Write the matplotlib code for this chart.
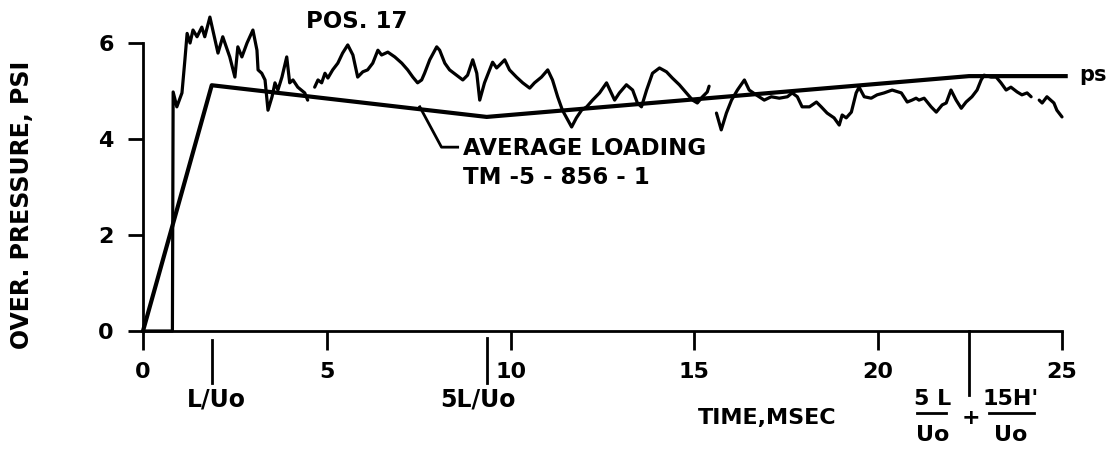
import numpy as np
import matplotlib
matplotlib.use("Agg")
import matplotlib.pyplot as plt

# ---- data ----
avg_time = [0.0, 1.87, 9.35, 22.47, 25.1]
avg_psi = [0.0, 5.12, 4.46, 5.31, 5.31]

nan = float("nan")
trace_time = [0.0, 0.80, 0.82, 0.92, 1.06, 1.14, 1.20, 1.28, 1.36, 1.47, 1.60, 1.68, 1.82,
              1.90, 2.04, 2.17, 2.36, 2.50, 2.58, 2.69, 2.83, 2.99, 3.10, 3.13, 3.23,
              3.32, 3.40, 3.51, 3.59, 3.67, 3.78, 3.91, 3.99, 4.08, 4.21, 4.40, 4.48,
              4.57,
              4.67, 4.76, 4.86, 4.95, 5.03, 5.16, 5.30, 5.43, 5.57, 5.71, 5.84, 5.98,
              6.11, 6.25, 6.39, 6.49, 6.66, 6.85, 7.04, 7.20, 7.34, 7.47, 7.58, 7.66,
              7.80, 7.99, 8.07, 8.21, 8.34, 8.53, 8.70, 8.83, 8.97, 9.08, 9.16, 9.29,
              9.43, 9.51, 9.62, 9.70, 9.84, 9.97, 10.16, 10.33, 10.52, 10.65, 10.84,
              11.01, 11.14, 11.28, 11.41, 11.66, 11.79, 11.93, 12.07, 12.23, 12.42,
              12.61, 12.83, 12.96, 13.15, 13.32, 13.45, 13.56, 13.70, 13.86, 14.05,
              14.24, 14.40, 14.59, 14.78, 14.95, 15.08, 15.22, 15.35, 15.40,
              15.50,
              15.60, 15.73, 15.87, 16.01, 16.17, 16.36, 16.49, 16.68, 16.90, 17.09,
              17.31, 17.53, 17.66, 17.80, 17.93, 18.13, 18.32, 18.45, 18.61, 18.80,
              18.94, 19.02, 19.13, 19.27, 19.40, 19.48, 19.62, 19.81, 19.97, 20.16,
              20.38, 20.63, 20.79, 20.92, 21.03, 21.11, 21.25, 21.44, 21.58, 21.74,
              21.85, 21.98, 22.12, 22.26, 22.39, 22.55, 22.69, 22.80, 22.88, 23.07,
              23.21, 23.34, 23.48, 23.61, 23.78, 23.91, 24.05, 24.16,
              24.27,
              24.38, 24.46, 24.59, 24.78, 24.86, 25.0]
trace_psi = [0.0, 0.0, 4.98, 4.67, 4.96, 5.65, 6.20, 6.00, 6.27, 6.13, 6.33, 6.13, 6.54,
             6.27, 5.79, 6.13, 5.71, 5.29, 5.92, 5.71, 6.00, 6.27, 5.85, 5.44, 5.37,
             5.23, 4.60, 4.88, 5.17, 5.02, 5.29, 5.71, 5.17, 5.23, 5.08, 4.96, 4.81,
             nan,
             5.08, 5.23, 5.17, 5.37, 5.27, 5.44, 5.58, 5.79, 5.96, 5.75, 5.29, 5.40,
             5.44, 5.58, 5.85, 5.75, 5.81, 5.71, 5.58, 5.44, 5.29, 5.17, 5.23, 5.37,
             5.65, 5.92, 5.85, 5.58, 5.44, 5.33, 5.23, 5.33, 5.65, 5.37, 4.81, 5.17,
             5.44, 5.60, 5.48, 5.54, 5.65, 5.44, 5.29, 5.17, 5.06, 5.17, 5.29,
             5.44, 5.23, 4.88, 4.60, 4.25, 4.44, 4.60, 4.67, 4.81, 4.96,
             5.17, 4.81, 4.96, 5.13, 5.02, 4.75, 4.67, 5.02, 5.37, 5.48,
             5.40, 5.27, 5.13, 4.96, 4.81, 4.75, 4.88, 4.98, 5.10,
             nan,
             4.54, 4.19, 4.54, 4.81, 5.02, 5.23, 5.02, 4.92, 4.81, 4.88,
             4.85, 4.88, 4.96, 4.88, 4.67, 4.67, 4.77, 4.67, 4.54, 4.44,
             4.29, 4.50, 4.44, 4.56, 4.96, 5.08, 4.88, 4.85, 4.92, 4.96,
             5.02, 4.96, 4.77, 4.81, 4.85, 4.81, 4.85, 4.67, 4.56, 4.71,
             4.75, 5.02, 4.81, 4.64, 4.77, 4.88, 5.02, 5.23, 5.33, 5.29,
             5.29, 5.17, 5.02, 5.08, 4.98, 4.92, 4.96, 4.88,
             nan,
             4.81, 4.75, 4.88, 4.75, 4.60, 4.46]

x_ticks = [0, 5, 10, 15, 20, 25]
y_ticks = [0, 2, 4, 6]

# ---- figure ----
W, H = 1113, 450
fig = plt.figure(figsize=(W / 100, H / 100), dpi=100)
ax = fig.add_axes([143 / W, 1 - 331 / H, (1062 - 143) / W, (331 - 43) / H])
ax.set_xlim(0, 25)
ax.set_ylim(0, 6)

for s in ["top", "right"]:
    ax.spines[s].set_visible(False)
for s in ["left", "bottom"]:
    ax.spines[s].set_linewidth(2.0)
    ax.spines[s].set_color("black")

font = dict(family="DejaVu Sans", fontweight="bold", color="black")

ax.set_xticks(x_ticks)
ax.set_yticks(y_ticks)
ax.set_xticklabels([str(v) for v in x_ticks], fontsize=16, fontweight="bold")
ax.set_yticklabels([str(v) for v in y_ticks], fontsize=16, fontweight="bold")
ax.tick_params(axis="x", direction="out", length=14, width=2, pad=8)
ax.tick_params(axis="y", direction="out", length=11, width=2, pad=10)

# lines
ax.plot(trace_time, trace_psi, color="black", lw=2.3, clip_on=False,
        solid_joinstyle="round", solid_capstyle="round")
ax.plot(avg_time, avg_psi, color="black", lw=3.0, clip_on=False,
        solid_joinstyle="round")

# special ticks below axis
ax.plot([1.87, 1.87], [-0.19, -1.08], color="black", lw=2, clip_on=False)
ax.plot([9.35, 9.35], [-0.15, -1.08], color="black", lw=2, clip_on=False)
ax.plot([22.47, 22.47], [0, -1.33], color="black", lw=2, clip_on=False)

ax.text(2.0, -1.42, "L/Uo", ha="center", va="center", fontsize=17, **font)
ax.text(9.10, -1.42, "5L/Uo", ha="center", va="center", fontsize=17, **font)
ax.text(16.98, -1.81, "TIME,MSEC", ha="center", va="center", fontsize=16, **font)

ax.text(21.47, -1.42, "5 L", ha="center", va="center", fontsize=16, **font)
ax.plot([21.06, 21.85], [-1.71, -1.71], color="black", lw=2, clip_on=False)
ax.text(21.47, -2.17, "Uo", ha="center", va="center", fontsize=16, **font)
ax.text(22.53, -1.81, "+", ha="center", va="center", fontsize=16, **font)
ax.text(23.60, -1.42, "15H'", ha="center", va="center", fontsize=16, **font)
ax.plot([23.02, 24.24], [-1.71, -1.71], color="black", lw=2, clip_on=False)
ax.text(23.60, -2.17, "Uo", ha="center", va="center", fontsize=16, **font)

# annotations
ax.text(5.82, 6.44, "POS. 17", ha="center", va="center", fontsize=16.5, **font)
ax.text(8.70, 3.81, "AVERAGE LOADING", ha="left", va="center", fontsize=16.5, **font)
ax.text(8.70, 3.19, "TM -5 - 856 - 1", ha="left", va="center", fontsize=16.5, **font)
ax.plot([7.53, 8.12, 8.56], [4.67, 3.83, 3.83], color="black", lw=2, clip_on=False)
ax.text(25.46, 5.33, "ps", ha="left", va="center", fontsize=15, **font)

fig.text(22 / W, 1 - 205 / H, "OVER. PRESSURE, PSI", rotation=90,
         ha="center", va="center", fontsize=17, **font)

fig.savefig("out.png", dpi=100, facecolor="white")
